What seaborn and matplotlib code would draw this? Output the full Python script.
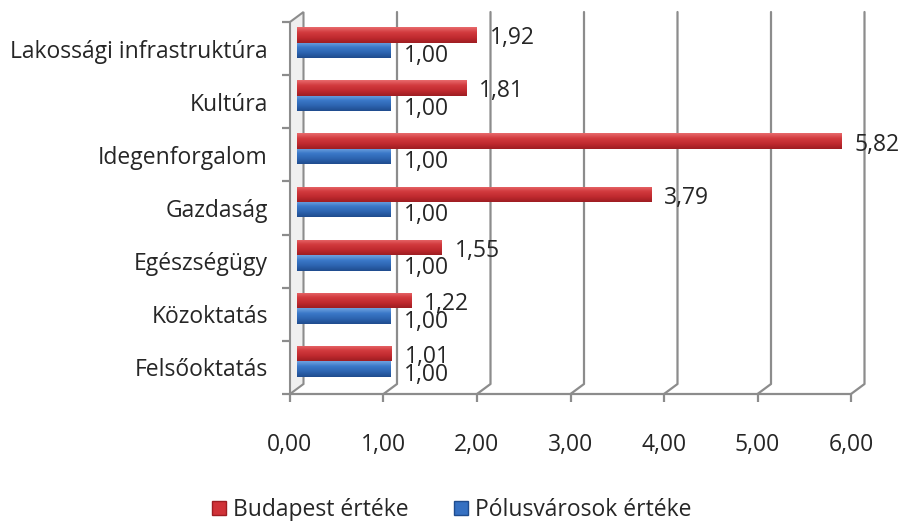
import numpy as np
import pandas as pd
import seaborn as sns
import matplotlib.pyplot as plt
from matplotlib.patches import Patch, Polygon
from matplotlib.colors import LinearSegmentedColormap

# Data
categories = ['Lakossági infrastruktúra', 'Kultúra', 'Idegenforgalom', 'Gazdaság',
              'Egészségügy', 'Közoktatás', 'Felsőoktatás']
budapest = [1.92, 1.81, 5.82, 3.79, 1.55, 1.22, 1.01]
polus = [1.00, 1.00, 1.00, 1.00, 1.00, 1.00, 1.00]
series = ['Budapest értéke', 'Pólusvárosok értéke']
xticks = [0, 1, 2, 3, 4, 5, 6]
xlabels = ['0,00', '1,00', '2,00', '3,00', '4,00', '5,00', '6,00']

df = pd.DataFrame({
    'cat': categories * 2,
    'value': budapest + polus,
    'series': [series[0]] * len(categories) + [series[1]] * len(categories),
})

red = '#D03238'
blue = '#3570C2'
grid_c = '#8c8c8c'

# cylinder shading: top highlight -> body -> dark bottom
red_cm = LinearSegmentedColormap.from_list('r', ['#E86A6C', '#D23A3E', '#C02A2F', '#9E1D22'])
blue_cm = LinearSegmentedColormap.from_list('b', ['#6FA2E0', '#3A78C8', '#2D64B0', '#1F4C8E'])

sns.set_style('white')
plt.rcParams['font.family'] = ['Open Sans', 'DejaVu Sans']
fs = 16.5

fig = plt.figure(figsize=(9.04, 5.21), dpi=100)
ax = fig.add_axes([290 / 904, 1 - 394 / 521, 561 / 904, 372 / 521])

sns.barplot(data=df, y='cat', x='value', hue='series', hue_order=series,
            palette=[red, blue], orient='h', width=0.58, ax=ax,
            edgecolor='none', legend=False)

ax.set_xlim(0, 6)
ax.set_ylim(6.5, -0.5)

# 3D depth offsets in data units (13.5 px right, 10 px up for the back wall)
dx = 13.5 / 561 * 6
dy = 10 / 372 * 7
# bars sit half way in depth
bdx = 7.5 / 561 * 6
bdy = 6 / 372 * 7

grad = np.linspace(0, 1, 64).reshape(-1, 1)
for p in list(ax.patches):
    p.set_x(p.get_x() + bdx)
    p.set_y(p.get_y() - bdy)
    p.set_zorder(3)
    is_red = p.get_facecolor()[0] > 0.5
    x0, y0, w, h = p.get_x(), p.get_y(), p.get_width(), p.get_height()
    im = ax.imshow(grad, cmap=red_cm if is_red else blue_cm, aspect='auto',
                   extent=(x0, x0 + w, y0 + h, y0), origin='upper',
                   zorder=3.5, interpolation='bilinear')
    im.set_clip_path(p)
ax.set_xlim(0, 6)
ax.set_ylim(6.5, -0.5)

# Left wall
wall = Polygon([(0, -0.5), (dx, -0.5 - dy), (dx, 6.5 - dy), (0, 6.5)],
               closed=True, facecolor='#efefef', edgecolor=grid_c, lw=1.5,
               clip_on=False, zorder=2)
ax.add_patch(wall)

# Back wall gridlines with diagonal to floor
for x in xticks[1:]:
    ax.plot([x + dx, x + dx, x], [-0.5 - dy, 6.5 - dy, 6.5], color=grid_c,
            lw=1.6, clip_on=False, zorder=1)
# Floor front edge
ax.plot([0, 6], [6.5, 6.5], color=grid_c, lw=1.6, clip_on=False, zorder=1)

# Value labels
for i, v in enumerate(budapest):
    ax.annotate(f'{v:.2f}'.replace('.', ','), (v + bdx, i - 0.145 - bdy),
                xytext=(9, -2.5), textcoords='offset points',
                ha='left', va='center', fontsize=fs, zorder=4)
for i, v in enumerate(polus):
    ax.annotate(f'{v:.2f}'.replace('.', ','), (v + bdx, i + 0.145 - bdy),
                xytext=(9, -4), textcoords='offset points',
                ha='left', va='center', fontsize=fs, zorder=4)

for s in ax.spines.values():
    s.set_visible(False)

ax.set_xticks(xticks)
ax.set_xticklabels(xlabels, fontsize=fs)
ax.set_yticks(range(len(categories)))
ax.set_yticklabels(categories, fontsize=fs)
ax.set_yticks(np.arange(-0.5, len(categories)), minor=True)
ax.tick_params(axis='x', which='major', length=6, width=1.6, color=grid_c,
               direction='out', bottom=True, pad=22)
ax.tick_params(axis='y', which='major', length=0, pad=16)
ax.tick_params(axis='y', which='minor', length=6, width=1.6, color=grid_c,
               direction='out', left=True)
ax.set_xlabel('')
ax.set_ylabel('')
ax.grid(False)

handles = [Patch(facecolor=red, edgecolor='#9E1D22'),
           Patch(facecolor=blue, edgecolor='#1F4C8E')]
fig.legend(handles, series, loc='center', bbox_to_anchor=(0.5, 11 / 521),
           ncol=2, frameon=False, fontsize=fs, handlelength=0.6,
           handleheight=0.6, handletextpad=0.3, columnspacing=2.0)

fig.savefig('out.png', dpi=100)
